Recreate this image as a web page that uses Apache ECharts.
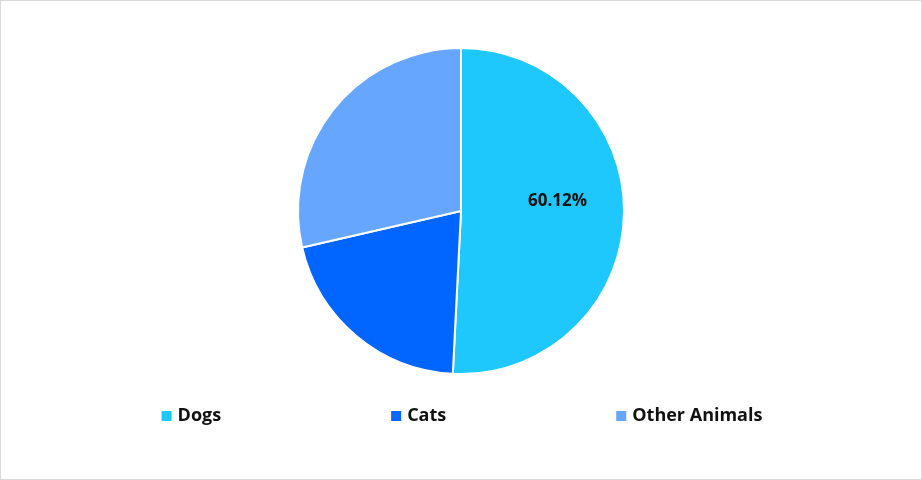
<!DOCTYPE html>
<html><head><meta charset="utf-8">
<script src="https://cdn.jsdelivr.net/npm/echarts@6/dist/echarts.min.js"></script>
<style>html,body{margin:0;padding:0;background:#fff}#c{width:920px;height:478px;border:1px solid #d9d9d9}</style>
</head><body><div id="c"></div>
<script>
const categories = ['Dogs', 'Cats', 'Other Animals'];
const values = [50.8, 20.6, 28.6];
const labelTexts = ['60.12%', '', ''];
const colors = ['#1ec8fc', '#0066ff', '#66a6ff'];
const chart = echarts.init(document.getElementById('c'));
chart.setOption({
  color: colors,
  legend: {
    bottom: 49, left: 'center', itemGap: 168, icon: 'rect', itemWidth: 12, itemHeight: 12,
    data: categories,
    textStyle: {fontFamily: 'Open Sans', fontWeight: 'bold', fontSize: 18, color: '#111'}
  },
  series: [{
    type: 'pie', center: [460, 210], radius: [0, 163], startAngle: 90, clockwise: true,
    itemStyle: {borderColor: '#fff', borderWidth: 2},
    label: {position: 'inner', formatter: p => labelTexts[p.dataIndex], fontFamily: 'Open Sans', fontWeight: 'bold', fontSize: 17, color: '#111', offset: [12, -12]},
    labelLine: {show: false},
    data: categories.map((n, i) => ({name: n, value: values[i]}))
  }]
});
</script></body></html>
